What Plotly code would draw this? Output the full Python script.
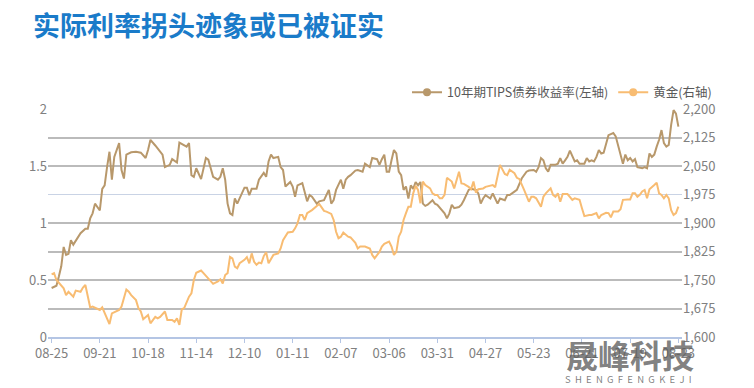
import plotly.graph_objects as go

# x positions are trading-day indices (0 = 08-25)
tick_idx = [0, 20, 40, 60, 80, 100, 120, 140, 160, 180, 200, 220, 240, 260]
tick_labels = ["08-25", "09-21", "10-18", "11-14", "12-10", "01-11", "02-07",
               "03-06", "03-31", "04-27", "05-23", "06-21", "07-19", "08-23"]

tips_idx = [0, 2, 3, 4, 5, 6, 7, 8, 9, 11, 12, 14, 15, 16, 17, 18, 20, 21, 22, 23, 24, 25, 26, 28, 29, 30,
            31, 33, 35, 37, 39, 40, 41, 43, 44, 46, 47, 49, 50, 52, 53, 55, 56, 57, 58, 59, 60, 62, 64, 65,
            66, 67, 69, 70, 71, 72, 73, 74, 75, 76, 77, 79, 80, 81, 82, 83, 85, 86, 88, 89, 90, 91, 92, 94,
            95, 96, 97, 99, 100, 101, 102, 104, 105, 106, 107, 108, 110, 111, 113, 114, 115, 116, 117, 118,
            119, 120, 121, 122, 123, 124, 126, 127, 129, 130, 132, 133, 135, 136, 137, 138, 139, 140, 141,
            142, 143, 144, 145, 146, 147, 148, 149, 150, 151, 152, 153, 154, 155, 156, 158, 159, 160, 162,
            163, 164, 165, 166, 167, 169, 170, 171, 172, 173, 174, 176, 177, 178, 179, 180, 182, 183, 184,
            185, 186, 188, 189, 190, 192, 193, 194, 195, 197, 198, 200, 201, 202, 203, 204, 205, 206, 207,
            209, 210, 211, 212, 213, 214, 215, 216, 217, 218, 219, 221, 222, 223, 224, 225, 226, 227, 228,
            229, 230, 231, 232, 233, 234, 235, 236, 237, 238, 239, 240, 241, 242, 243, 245, 246, 247, 248,
            249, 250, 251, 252, 253, 254, 255, 256, 257, 258, 259, 260]
tips_val = [0.43, 0.45, 0.53, 0.62, 0.79, 0.72, 0.73, 0.85, 0.81, 0.88, 0.91, 0.95, 0.95, 1.04, 1.085, 1.17,
            1.11, 1.30, 1.33, 1.49, 1.625, 1.38, 1.58, 1.70, 1.465, 1.39, 1.60, 1.62, 1.625, 1.617, 1.57,
            1.64, 1.73, 1.68, 1.655, 1.60, 1.49, 1.51, 1.56, 1.53, 1.705, 1.685, 1.67, 1.70, 1.42, 1.405,
            1.48, 1.385, 1.57, 1.555, 1.48, 1.405, 1.38, 1.405, 1.48, 1.38, 1.17, 1.085, 1.07, 1.215, 1.17,
            1.26, 1.31, 1.31, 1.245, 1.30, 1.30, 1.38, 1.44, 1.405, 1.54, 1.60, 1.57, 1.58, 1.49, 1.465,
            1.32, 1.36, 1.32, 1.23, 1.33, 1.35, 1.26, 1.19, 1.245, 1.23, 1.17, 1.19, 1.20, 1.245, 1.29,
            1.17, 1.20, 1.29, 1.33, 1.38, 1.30, 1.38, 1.405, 1.42, 1.46, 1.465, 1.45, 1.52, 1.49, 1.57,
            1.56, 1.51, 1.56, 1.60, 1.45, 1.45, 1.55, 1.64, 1.61, 1.45, 1.42, 1.29, 1.32, 1.215, 1.33,
            1.30, 1.36, 1.33, 1.36, 1.17, 1.15, 1.16, 1.20, 1.17, 1.16, 1.11, 1.085, 1.04, 1.085, 1.16,
            1.13, 1.14, 1.16, 1.20, 1.245, 1.29, 1.30, 1.29, 1.26, 1.17, 1.215, 1.245, 1.215, 1.26, 1.215,
            1.17, 1.215, 1.20, 1.245, 1.245, 1.275, 1.29, 1.34, 1.39, 1.45, 1.46, 1.465, 1.45, 1.49, 1.57,
            1.55, 1.48, 1.45, 1.51, 1.51, 1.52, 1.57, 1.52, 1.55, 1.58, 1.635, 1.59, 1.54, 1.55, 1.52,
            1.52, 1.57, 1.54, 1.55, 1.54, 1.58, 1.64, 1.61, 1.617, 1.70, 1.77, 1.78, 1.79, 1.76, 1.685,
            1.60, 1.52, 1.60, 1.55, 1.57, 1.54, 1.56, 1.49, 1.48, 1.49, 1.48, 1.61, 1.58, 1.60, 1.67,
            1.73, 1.815, 1.70, 1.67, 1.685, 1.86, 1.99, 1.96, 1.845]

gold_idx = [0, 1, 2, 3, 5, 6, 7, 9, 10, 12, 13, 14, 15, 16, 17, 19, 20, 21, 22, 23, 24, 25, 27, 28, 29, 31,
            32, 33, 35, 36, 37, 38, 40, 41, 43, 44, 45, 47, 48, 50, 51, 52, 53, 54, 55, 57, 58, 59, 60, 62,
            63, 65, 66, 67, 69, 70, 71, 72, 73, 74, 75, 76, 77, 78, 80, 81, 82, 83, 84, 85, 86, 87, 88, 89,
            90, 91, 92, 94, 95, 96, 97, 98, 100, 101, 102, 103, 104, 105, 106, 107, 108, 110, 111, 112, 113,
            114, 116, 117, 118, 119, 120, 121, 123, 124, 126, 127, 128, 130, 132, 133, 134, 136, 137, 138,
            140, 141, 142, 143, 144, 145, 146, 147, 148, 149, 150, 151, 152, 153, 154, 155, 157, 158, 159,
            160, 161, 162, 163, 164, 165, 166, 167, 168, 169, 170, 171, 173, 174, 175, 176, 177, 179, 180,
            182, 183, 184, 185, 186, 188, 189, 190, 192, 193, 194, 196, 197, 198, 199, 200, 201, 203, 204,
            205, 207, 208, 209, 210, 211, 212, 214, 215, 216, 217, 219, 220, 221, 223, 224, 226, 227, 228,
            230, 231, 232, 233, 235, 236, 237, 239, 240, 241, 242, 243, 244, 245, 246, 247, 248, 250, 251,
            252, 253, 254, 255, 256, 257, 258, 259, 260]
gold_val = [1765, 1768, 1750, 1743, 1728, 1710, 1719, 1706, 1722, 1719, 1730, 1737, 1710, 1678, 1680, 1673,
            1671, 1678, 1662, 1649, 1634, 1662, 1669, 1671, 1680, 1725, 1719, 1710, 1697, 1676, 1667, 1647,
            1658, 1636, 1653, 1649, 1653, 1667, 1645, 1645, 1640, 1649, 1632, 1673, 1676, 1706, 1715, 1750,
            1769, 1775, 1768, 1753, 1746, 1740, 1746, 1752, 1741, 1763, 1768, 1811, 1807, 1785, 1781, 1794,
            1803, 1810, 1794, 1820, 1798, 1790, 1796, 1794, 1813, 1823, 1794, 1807, 1816, 1820, 1833, 1855,
            1864, 1875, 1877, 1886, 1899, 1921, 1921, 1908, 1926, 1930, 1934, 1945, 1950, 1941, 1932, 1930,
            1924, 1908, 1877, 1860, 1864, 1875, 1864, 1862, 1848, 1833, 1838, 1838, 1833, 1816, 1807, 1824,
            1838, 1845, 1851, 1838, 1816, 1824, 1864, 1877, 1908, 1926, 1943, 1943, 1978, 1998, 1987, 1952,
            2009, 2000, 1991, 1978, 1974, 1974, 1965, 1965, 1974, 2019, 2013, 2009, 1991, 2013, 2035, 2004,
            2003, 1995, 1989, 2009, 1980, 1989, 1991, 1995, 1998, 2000, 1994, 2022, 2053, 2029, 2026, 2040,
            2031, 2019, 2016, 1987, 1969, 1956, 1969, 1969, 1965, 1943, 1969, 1978, 1991, 1974, 1969, 1978,
            1956, 1976, 1976, 1969, 1961, 1965, 1961, 1939, 1918, 1921, 1921, 1926, 1912, 1921, 1927, 1926,
            1915, 1930, 1930, 1936, 1961, 1962, 1962, 1978, 1978, 1969, 1974, 1983, 1987, 1965, 1989, 2000,
            2006, 1978, 1974, 1965, 1974, 1965, 1934, 1921, 1926, 1943]

left_ticks = [0, 0.5, 1, 1.5, 2]
left_minor = [0.25, 0.75, 1.25, 1.75]
right_ticks = [1600, 1675, 1750, 1825, 1900, 1975, 2050, 2125, 2200]
gray_grid = [0.25, 0.5, 0.75, 1.0, 1.5, 1.75]

names = ["10年期TIPS债券收益率(左轴)", "黄金(右轴)"]
colors = ["#B8986B", "#F8BC72"]

fig = go.Figure()
fig.add_trace(go.Scatter(x=tips_idx, y=tips_val, mode="lines", line=dict(color=colors[0], width=2),
                         showlegend=False, yaxis="y", hoverinfo="skip"))
fig.add_trace(go.Scatter(x=gold_idx, y=gold_val, mode="lines", line=dict(color=colors[1], width=2),
                         showlegend=False, yaxis="y2", hoverinfo="skip"))
fig.add_trace(go.Scatter(x=[None], y=[None], yaxis="y3", showlegend=False, hoverinfo="skip"))
for n, c in zip(names, colors):
    fig.add_trace(go.Scatter(x=[None], y=[None], mode="lines+markers", name=n,
                             line=dict(color=c, width=2), marker=dict(color=c, size=8)))

tickfont = dict(family="Noto Sans CJK SC, sans-serif", size=13, color="#808080")

fig.update_layout(
    width=754, height=388,
    margin=dict(l=48, r=72, t=109, b=51, autoexpand=False),
    paper_bgcolor="white", plot_bgcolor="white",
    title=dict(text="<b>实际利率拐头迹象或已被证实</b>", x=33 / 754, xanchor="left",
               y=1 - 27 / 388, yanchor="middle",
               font=dict(family="Noto Sans CJK SC, sans-serif", size=27, color="#1A7BC9")),
    xaxis=dict(range=[-1.5, 261.5], tickvals=tick_idx, ticktext=tick_labels, showgrid=False,
               zeroline=False, showline=True, linecolor="#B4C5E4", linewidth=1.5, automargin=False,
               ticks="outside", ticklen=4, tickcolor="#B4C5E4", tickfont=tickfont),
    yaxis=dict(range=[0, 2], tickvals=left_ticks, ticktext=["0", "0.5", "1", "1.5", "2"],
               showgrid=True, gridcolor="#C9D3E5", gridwidth=1, zeroline=False, showline=False,
               ticks="", tickfont=tickfont, automargin=False,
               minor=dict(tickvals=left_minor, showgrid=True, gridcolor="#C9D3E5", gridwidth=1)),
    yaxis2=dict(range=[1600, 2200], overlaying="y", side="right", tickvals=right_ticks,
                tickformat=",", showgrid=False, zeroline=False, ticks="", tickfont=tickfont,
                automargin=False),
    yaxis3=dict(range=[0, 2], overlaying="y", side="left", tickvals=gray_grid, showticklabels=False,
                showgrid=True, gridcolor="#BBBBBB", gridwidth=1.6, zeroline=False, ticks="",
                automargin=False),
    legend=dict(orientation="h", xref="container", yref="container", x=717 / 754, xanchor="right",
                y=1 - 92.5 / 388, yanchor="middle", bgcolor="rgba(0,0,0,0)",
                font=dict(family="Noto Sans CJK SC, sans-serif", size=12.5, color="#595959")),
    annotations=[
        dict(text="<b>晟峰科技</b>", xref="paper", yref="paper", x=(630 - 48) / 634,
             y=(337 - 354) / 228, xanchor="center", yanchor="middle", showarrow=False,
             font=dict(family="Noto Sans CJK SC, sans-serif", size=32, color="rgba(95,95,95,0.8)")),
        dict(text="S  H  E  N  G  F  E  N  G  K  E  J  I", xref="paper", yref="paper",
             x=(628 - 48) / 634, y=(337 - 379) / 228, xanchor="center", yanchor="middle",
             showarrow=False,
             font=dict(family="Noto Sans CJK SC, sans-serif", size=9.5, color="rgba(95,95,95,0.8)")),
    ],
)

fig.write_html("out.html", config={"displayModeBar": False})

# remove the browser's default page margin so the figure sits at the window's top-left corner
with open("out.html", encoding="utf-8") as f:
    html = f.read()
html = html.replace("<head>", "<head><style>html,body{margin:0;padding:0;overflow:hidden;}</style>", 1)
with open("out.html", "w", encoding="utf-8") as f:
    f.write(html)
